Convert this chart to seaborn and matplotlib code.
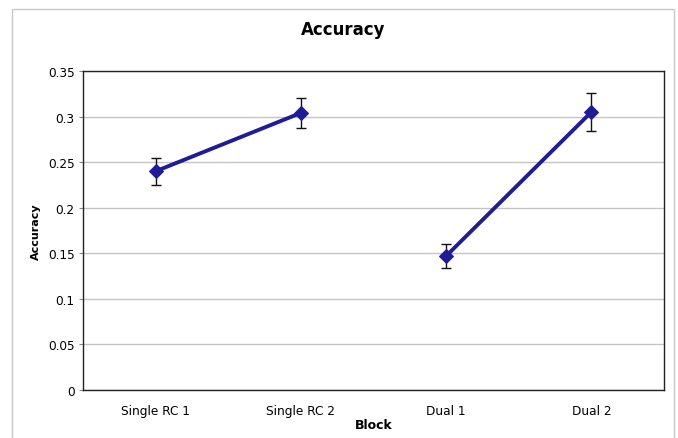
import matplotlib
matplotlib.use("Agg")
import matplotlib.pyplot as plt
import seaborn as sns
import pandas as pd
from matplotlib.patches import Rectangle

blocks = ["Single RC 1", "Single RC 2", "Dual 1", "Dual 2"]
groups = ["Single", "Single", "Dual", "Dual"]
accuracy = [0.240, 0.304, 0.147, 0.305]
err = [0.015, 0.016, 0.013, 0.021]
yticks = [0, 0.05, 0.1, 0.15, 0.2, 0.25, 0.3, 0.35]
ytick_labels = ["0", "0.05", "0.1", "0.15", "0.2", "0.25", "0.3", "0.35"]

df = pd.DataFrame({"Block": blocks, "Group": groups, "Accuracy": accuracy, "err": err})

sns.set_theme(style="white")
plt.rcParams["font.family"] = ["DejaVu Sans"]
plt.rcParams["text.color"] = "black"
plt.rcParams["axes.labelcolor"] = "black"
plt.rcParams["xtick.color"] = "black"
plt.rcParams["ytick.color"] = "black"

color = "#1F1C96"
fig = plt.figure(figsize=(6.78, 4.39), dpi=100)
ax = fig.add_axes([83 / 678, 1 - 391 / 439, (664 - 83) / 678, (391 - 72) / 439])

ax.errorbar(df["Block"], df["Accuracy"], yerr=df["err"], fmt="none", ecolor="#111111",
            elinewidth=1, capsize=3.5, capthick=1, zorder=2)
sns.lineplot(data=df, x="Block", y="Accuracy", hue="Group", palette=[color, color],
             marker="D", markersize=7.5, markeredgecolor=color, linewidth=2.8,
             legend=False, ax=ax, zorder=3)

ax.set_xlim(-0.5, 3.5)
ax.set_ylim(0, 0.35)
ax.set_yticks(yticks)
ax.set_yticklabels(ytick_labels, fontsize=8.7)
ax.tick_params(axis="x", labelsize=8.7, length=0, pad=10)
ax.tick_params(axis="y", length=3, width=0.8, color="#888888", left=True, pad=3)
ax.yaxis.grid(True, color="#C4C4C4", linewidth=1)
ax.set_axisbelow(True)
for s in ax.spines.values():
    s.set_color("#222222")
    s.set_linewidth(1)

ax.set_xlabel("Block", fontsize=9, fontweight="bold", labelpad=0.5)
ax.set_ylabel("Accuracy", fontsize=8, fontweight="bold", labelpad=5)
fig.suptitle("Accuracy", x=(12 + 674) / 2 / 678, y=1 - 21 / 439, fontsize=12, fontweight="bold")

fig.patches.append(Rectangle((12 / 678, -0.05), (674 - 12) / 678, 1 - 9.5 / 439 + 0.05,
                             transform=fig.transFigure, fill=False, edgecolor="#C8C8C8",
                             linewidth=1))

fig.savefig("out.png", dpi=100)
